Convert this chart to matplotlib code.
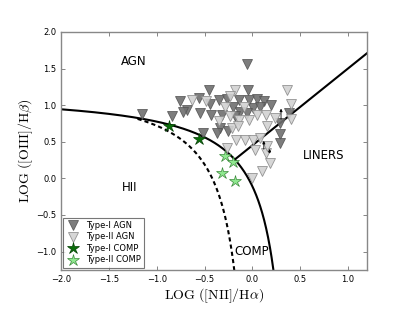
import numpy as np
import matplotlib
matplotlib.use("Agg")
import matplotlib.pyplot as plt

#-----------------------------------DATA
# Type-I AGN (dark triangles)
t1_x = [-0.06, -0.45, -0.05, -0.76, -0.56, -0.68, -0.73, -0.55, -0.84, -1.15,
        -0.44, -0.35, -0.27, -0.43, -0.32, -0.20, -0.14, -0.04, 0.05, 0.12,
        0.20, -0.34, -0.25, -0.52, -0.13, 0.29, 0.29, 0.29, 0.38, 0.01,
        -0.06, -0.37, -0.18, 0.08]
t1_y = [1.56, 1.20, 1.20, 1.06, 1.10, 0.94, 0.91, 0.89, 0.85, 0.88,
        1.02, 1.07, 1.08, 0.87, 0.87, 0.98, 1.07, 1.07, 1.09, 1.06,
        1.00, 0.69, 0.64, 0.62, 0.91, 0.75, 0.60, 0.48, 0.89, 0.96,
        0.89, 0.62, 0.85, 0.98]

# Type-II AGN (light triangles)
t2_x = [-0.18, 0.36, 0.40, 0.40, -0.63, -0.48, -0.23, -0.14, -0.04, 0.05,
        0.14, 0.24, -0.21, -0.27, -0.17, -0.08, 0.01, 0.08, 0.03, 0.14,
        0.18, 0.10, 0.00, 0.15, -0.29, -0.35, -0.15, -0.09, 0.15, -0.23]
t2_y = [1.20, 1.21, 1.01, 0.81, 1.07, 1.06, 0.85, 0.79, 0.79, 0.87,
        0.87, 0.82, 0.69, 0.41, 0.53, 0.53, 0.53, 0.55, 0.39, 0.35,
        0.21, 0.10, 0.00, 0.44, 0.98, 0.78, 0.71, 0.98, 0.71, 1.12]

# Type-I COMP (dark stars)
c1_x = [-0.87, -0.56]
c1_y = [0.71, 0.54]

# Type-II COMP (light stars)
c2_x = [-0.29, -0.20, -0.32, -0.18]
c2_y = [0.30, 0.22, 0.07, -0.04]

# limits drawn as little arrows (x, y start, y end)
lim_x = [0.30, 0.12, 0.18]
lim_y0 = [0.77, 0.36, 0.31]
lim_y1 = [0.99, 0.55, 0.44]

#-----------------------------------DIVIDING LINES
xk = np.linspace(-2.0, 0.46, 600)
yk = 0.61 / (xk - 0.47) + 1.19          # Kewley 2001
xf = np.linspace(-1.2, 0.04, 600)
yf = 0.61 / (xf - 0.05) + 1.3           # Kauffmann 2003
xs = np.linspace(-0.18, 1.2, 50)
ys = 1.05 * xs + 0.45                   # Schawinski 2007

#-----------------------------------PLOT
plt.rcParams['mathtext.fontset'] = 'cm'
plt.rcParams['xtick.direction'] = 'in'
plt.rcParams['ytick.direction'] = 'in'
plt.rcParams['xtick.top'] = True
plt.rcParams['ytick.right'] = True

fig = plt.figure(figsize=(4.07, 3.19), dpi=100)
ax = fig.add_axes([0.150, 0.154, 0.752, 0.746])

ax.plot(xk, yk, color='black', lw=1.5, zorder=2)
ax.plot(xf, yf, color='black', lw=1.5, ls=(0, (2, 1.5)), zorder=2)
ax.plot(xs, ys, color='black', lw=1.5, zorder=2)

ax.plot(t1_x, t1_y, 'v', ms=7.5, color='#6f6f6f', mec='#555555', mew=0.6,
        alpha=0.9, label='Type-I AGN', zorder=3)
ax.plot(t2_x, t2_y, 'v', ms=7.5, color='#d2d2d2', mec='#8a8a8a', mew=0.6,
        alpha=0.9, label='Type-II AGN', zorder=3)
for x, a, b in zip(lim_x, lim_y0, lim_y1):
    ax.annotate('', xy=(x, b), xytext=(x, a),
                arrowprops=dict(arrowstyle='-|>', color='black', lw=0.6,
                                mutation_scale=4), zorder=4)
ax.plot(c1_x, c1_y, '*', ms=9, color='#0b6e0b', mec='#044004', mew=0.5,
        label='Type-I COMP', zorder=5)
ax.plot(c2_x, c2_y, '*', ms=9, color='#8fe88f', mec='#3c8a3c', mew=0.5,
        label='Type-II COMP', zorder=5)

ax.text(-1.24, 1.6, 'AGN', fontsize=8.5, ha='center', va='center')
ax.text(-1.28, -0.12, 'HII', fontsize=8.5, ha='center', va='center')
ax.text(-0.01, -1.0, 'COMP', fontsize=8.5, ha='center', va='center')
ax.text(0.75, 0.31, 'LINERS', fontsize=8.5, ha='center', va='center')

ax.set_xlim(-2.0, 1.2)
ax.set_ylim(-1.25, 2.0)
ax.set_xticks([-2.0, -1.5, -1.0, -0.5, 0.0, 0.5, 1.0])
ax.set_yticks([-1.0, -0.5, 0.0, 0.5, 1.0, 1.5, 2.0])
ax.tick_params(labelsize=6, length=3, width=0.5, color='#555555')
for s in ax.spines.values():
    s.set_color('#888888')
    s.set_linewidth(1.0)

ax.set_xlabel(r'$\mathrm{LOG\ ([NII]/H\alpha)}$', fontsize=10, labelpad=2)
ax.set_ylabel(r'$\mathrm{LOG\ ([OIII]/H\beta)}$', fontsize=10, labelpad=1)

leg = ax.legend(loc='lower left', numpoints=1, fontsize=6, fancybox=False,
                borderpad=0.4, handletextpad=0.8, labelspacing=0.3,
                borderaxespad=0.25, handlelength=1.5)
leg.get_frame().set_edgecolor('#555555')
leg.get_frame().set_linewidth(0.8)

plt.savefig('out.png', dpi=100)
